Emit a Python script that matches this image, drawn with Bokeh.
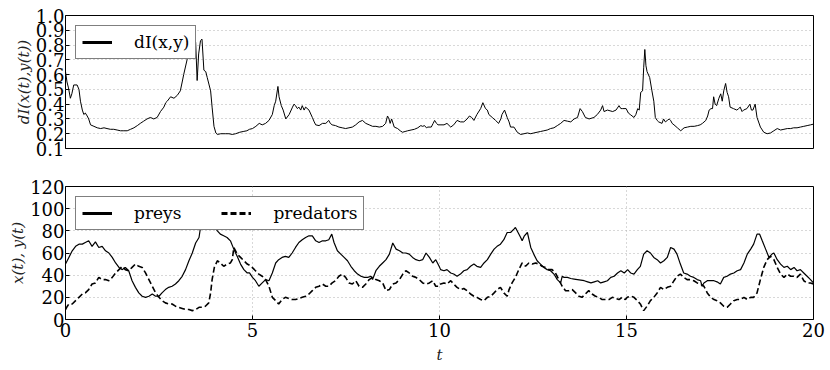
from bokeh.plotting import figure
from bokeh.layouts import column
from bokeh.models import Range1d, FixedTicker, Legend, LegendItem
from bokeh.embed import file_html
from bokeh.resources import INLINE

# ---------------- data ----------------
# dI(x(t), y(t)) : (t, value)
di_points = [
    (0.00, 0.62), (0.04, 0.55), (0.08, 0.51), (0.13, 0.44), (0.17, 0.47), (0.22, 0.53),
    (0.31, 0.53), (0.36, 0.50), (0.40, 0.42), (0.45, 0.36), (0.49, 0.33), (0.53, 0.34),
    (0.58, 0.32), (0.62, 0.30), (0.67, 0.26), (0.76, 0.25), (0.85, 0.24), (0.94, 0.235),
    (1.03, 0.24), (1.11, 0.235), (1.20, 0.23), (1.29, 0.23), (1.38, 0.225), (1.47, 0.22),
    (1.56, 0.22), (1.65, 0.22), (1.74, 0.23), (1.83, 0.24), (1.92, 0.255), (2.00, 0.27),
    (2.09, 0.285), (2.18, 0.30), (2.27, 0.31), (2.36, 0.30), (2.45, 0.31), (2.54, 0.35),
    (2.63, 0.38), (2.68, 0.41), (2.72, 0.42), (2.81, 0.45), (2.90, 0.44), (2.99, 0.46),
    (3.07, 0.49), (3.12, 0.55), (3.16, 0.60), (3.25, 0.70), (3.30, 0.74), (3.34, 0.76),
    (3.40, 0.80), (3.48, 0.82), (3.52, 0.56), (3.56, 0.74), (3.61, 0.83), (3.65, 0.84),
    (3.70, 0.63), (3.75, 0.62), (3.79, 0.58), (3.84, 0.53), (3.88, 0.49), (3.92, 0.38),
    (3.97, 0.25), (4.02, 0.205), (4.06, 0.195), (4.15, 0.20), (4.28, 0.20), (4.37, 0.20),
    (4.46, 0.195), (4.55, 0.20), (4.66, 0.21), (4.75, 0.215), (4.85, 0.22), (4.92, 0.23),
    (5.00, 0.235), (5.09, 0.25), (5.18, 0.27), (5.26, 0.26), (5.35, 0.27), (5.44, 0.29),
    (5.53, 0.33), (5.58, 0.39), (5.62, 0.42), (5.68, 0.52), (5.71, 0.45), (5.77, 0.39),
    (5.82, 0.36), (5.89, 0.30), (5.98, 0.33), (6.07, 0.38), (6.11, 0.40), (6.15, 0.39),
    (6.20, 0.37), (6.24, 0.38), (6.29, 0.36), (6.33, 0.39), (6.38, 0.36), (6.42, 0.38),
    (6.51, 0.36), (6.60, 0.31), (6.65, 0.28), (6.69, 0.26), (6.78, 0.255), (6.87, 0.27),
    (6.96, 0.27), (7.04, 0.29), (7.08, 0.27), (7.13, 0.26), (7.22, 0.255), (7.31, 0.245),
    (7.40, 0.24), (7.49, 0.235), (7.58, 0.24), (7.67, 0.245), (7.76, 0.26), (7.85, 0.28),
    (7.94, 0.29), (8.03, 0.27), (8.12, 0.26), (8.21, 0.25), (8.30, 0.25), (8.39, 0.245),
    (8.48, 0.25), (8.56, 0.27), (8.61, 0.32), (8.65, 0.30), (8.68, 0.27), (8.72, 0.30),
    (8.79, 0.245), (8.88, 0.235), (8.95, 0.22), (9.01, 0.21), (9.08, 0.215), (9.15, 0.22),
    (9.24, 0.225), (9.33, 0.23), (9.42, 0.24), (9.50, 0.255), (9.55, 0.25), (9.60, 0.255),
    (9.65, 0.24), (9.69, 0.245), (9.78, 0.245), (9.83, 0.27), (9.87, 0.29), (9.92, 0.27),
    (9.96, 0.26), (10.04, 0.26), (10.12, 0.26), (10.20, 0.27), (10.30, 0.245), (10.38, 0.26),
    (10.47, 0.29), (10.56, 0.28), (10.65, 0.28), (10.74, 0.30), (10.80, 0.32), (10.86, 0.31),
    (10.92, 0.29), (11.00, 0.33), (11.10, 0.37), (11.16, 0.41), (11.23, 0.37), (11.28, 0.36),
    (11.32, 0.33), (11.41, 0.31), (11.50, 0.29), (11.58, 0.27), (11.64, 0.30), (11.67, 0.33),
    (11.74, 0.36), (11.81, 0.31), (11.86, 0.28), (11.90, 0.245), (11.99, 0.245), (12.08, 0.21),
    (12.17, 0.195), (12.26, 0.20), (12.35, 0.205), (12.44, 0.20), (12.52, 0.205), (12.61, 0.21),
    (12.70, 0.215), (12.79, 0.22), (12.88, 0.225), (12.97, 0.235), (13.06, 0.24), (13.15, 0.255),
    (13.24, 0.27), (13.33, 0.29), (13.42, 0.285), (13.51, 0.28), (13.60, 0.30), (13.69, 0.31),
    (13.76, 0.37), (13.82, 0.35), (13.90, 0.31), (14.00, 0.30), (14.13, 0.31), (14.22, 0.33),
    (14.31, 0.36), (14.36, 0.39), (14.40, 0.35), (14.49, 0.36), (14.56, 0.355), (14.63, 0.35),
    (14.72, 0.36), (14.80, 0.39), (14.85, 0.37), (14.90, 0.37), (14.99, 0.37), (15.05, 0.34),
    (15.10, 0.33), (15.20, 0.31), (15.25, 0.33), (15.30, 0.37), (15.34, 0.36), (15.38, 0.48),
    (15.43, 0.49), (15.46, 0.65), (15.49, 0.77), (15.52, 0.66), (15.55, 0.62), (15.62, 0.58),
    (15.68, 0.49), (15.73, 0.42), (15.77, 0.31), (15.82, 0.29), (15.86, 0.28), (15.95, 0.27),
    (15.99, 0.30), (16.04, 0.28), (16.09, 0.29), (16.14, 0.30), (16.18, 0.29), (16.22, 0.27),
    (16.27, 0.26), (16.36, 0.24), (16.45, 0.22), (16.54, 0.24), (16.63, 0.245), (16.72, 0.25),
    (16.81, 0.25), (16.90, 0.255), (16.97, 0.26), (17.03, 0.27), (17.12, 0.29), (17.17, 0.32),
    (17.21, 0.36), (17.26, 0.37), (17.30, 0.37), (17.33, 0.45), (17.37, 0.40), (17.41, 0.39),
    (17.47, 0.44), (17.52, 0.47), (17.56, 0.42), (17.60, 0.49), (17.65, 0.54), (17.69, 0.48),
    (17.73, 0.45), (17.77, 0.38), (17.86, 0.37), (17.95, 0.36), (18.00, 0.37), (18.04, 0.38),
    (18.09, 0.35), (18.13, 0.36), (18.22, 0.37), (18.30, 0.40), (18.34, 0.36), (18.38, 0.36),
    (18.44, 0.40), (18.49, 0.31), (18.58, 0.245), (18.67, 0.21), (18.76, 0.20), (18.85, 0.205),
    (18.94, 0.22), (19.03, 0.235), (19.12, 0.225), (19.21, 0.23), (19.30, 0.235), (19.39, 0.235),
    (19.47, 0.24), (19.56, 0.24), (19.65, 0.245), (19.74, 0.25), (19.83, 0.255), (19.92, 0.26),
    (20.00, 0.265),
]

# preys x(t) : (t, value)
prey_points = [
    (0.00, 50), (0.09, 56), (0.18, 62), (0.27, 66), (0.36, 68), (0.45, 68), (0.53, 69.5),
    (0.62, 71), (0.71, 66), (0.80, 70), (0.89, 65), (0.98, 66), (1.07, 62), (1.16, 60),
    (1.25, 56), (1.34, 51), (1.43, 47), (1.52, 45), (1.60, 47), (1.69, 44), (1.78, 35),
    (1.87, 29), (1.96, 24), (2.05, 21), (2.14, 20), (2.23, 21), (2.32, 23), (2.41, 21),
    (2.50, 21), (2.58, 24), (2.67, 27), (2.76, 29), (2.85, 30), (2.94, 32), (3.03, 35),
    (3.12, 39), (3.21, 45), (3.30, 53), (3.39, 60), (3.48, 69), (3.57, 74), (3.61, 83),
    (3.70, 88), (3.80, 90), (3.90, 86), (4.00, 83), (4.06, 80), (4.14, 77), (4.23, 75.5),
    (4.32, 74), (4.41, 71), (4.50, 63.5), (4.59, 57), (4.68, 50), (4.77, 45), (4.86, 42),
    (4.92, 42), (5.00, 38), (5.08, 35), (5.17, 30), (5.26, 33), (5.35, 36), (5.44, 35),
    (5.53, 42), (5.62, 51), (5.70, 54), (5.79, 56), (5.88, 57), (5.97, 56), (6.06, 60),
    (6.15, 65), (6.24, 69.5), (6.33, 72), (6.42, 74), (6.51, 75.5), (6.60, 75.5), (6.69, 71),
    (6.78, 69.5), (6.87, 71), (6.96, 71), (7.04, 72), (7.12, 77), (7.18, 69.5), (7.27, 62),
    (7.36, 59), (7.45, 56), (7.54, 53), (7.63, 48), (7.72, 44), (7.81, 41), (7.90, 39),
    (7.99, 38), (8.08, 38), (8.17, 39), (8.21, 36), (8.30, 44), (8.39, 48), (8.48, 51),
    (8.57, 54), (8.66, 59), (8.75, 69), (8.84, 63.5), (8.93, 62), (9.02, 60), (9.10, 60),
    (9.19, 59), (9.28, 56), (9.37, 54), (9.46, 53), (9.55, 54), (9.64, 60), (9.73, 56),
    (9.82, 51), (9.90, 54), (9.99, 48), (10.03, 45), (10.12, 44), (10.20, 45), (10.30, 42),
    (10.38, 41), (10.47, 39), (10.56, 41), (10.65, 44), (10.74, 45), (10.83, 48), (10.92, 50),
    (11.00, 48), (11.10, 47), (11.19, 51), (11.28, 54), (11.37, 59), (11.46, 63.5), (11.54, 66),
    (11.63, 68), (11.72, 72), (11.81, 78.5), (11.90, 78.5), (11.99, 81.5), (12.03, 83),
    (12.10, 78.5), (12.17, 74), (12.21, 71), (12.27, 75.5), (12.35, 78.5), (12.44, 65),
    (12.52, 59), (12.61, 53), (12.70, 50), (12.79, 47), (12.88, 45), (12.97, 44), (13.06, 41),
    (13.15, 36), (13.24, 33), (13.28, 39), (13.33, 38), (13.42, 38), (13.51, 37), (13.60, 36.5),
    (13.69, 36), (13.78, 35.5), (13.87, 35), (13.96, 34), (14.05, 33), (14.14, 34), (14.23, 35),
    (14.31, 33), (14.40, 34), (14.49, 35), (14.58, 38), (14.67, 39), (14.76, 42), (14.85, 44),
    (14.94, 42), (15.03, 45), (15.11, 42), (15.20, 41), (15.29, 45), (15.37, 48), (15.46, 59),
    (15.55, 62), (15.64, 60), (15.73, 56), (15.82, 54), (15.91, 51), (16.00, 53), (16.09, 56),
    (16.18, 65), (16.27, 63.5), (16.35, 59), (16.44, 50), (16.53, 42), (16.62, 41), (16.71, 39),
    (16.80, 38), (16.89, 36), (16.98, 35), (17.02, 30), (17.07, 33), (17.16, 35), (17.25, 35),
    (17.34, 35), (17.42, 34), (17.51, 32), (17.60, 38), (17.69, 39), (17.78, 41), (17.87, 42),
    (17.96, 44), (18.05, 45), (18.14, 51), (18.23, 59), (18.32, 63.5), (18.40, 68), (18.49, 77),
    (18.56, 77), (18.63, 71), (18.72, 63.5), (18.81, 56), (18.89, 59), (18.94, 60), (19.03, 54),
    (19.12, 50), (19.21, 47), (19.30, 48), (19.39, 45), (19.48, 47), (19.56, 44), (19.65, 45),
    (19.74, 42), (19.83, 39), (19.92, 36), (20.00, 33),
]

# predators y(t) : (t, value)
pred_points = [
    (0.00, 9), (0.05, 12), (0.09, 14), (0.18, 14), (0.27, 17), (0.36, 20), (0.45, 23),
    (0.53, 24), (0.62, 27), (0.71, 32), (0.80, 33), (0.89, 38), (0.98, 36), (1.07, 36),
    (1.16, 35), (1.25, 38), (1.34, 42), (1.43, 45), (1.52, 48), (1.60, 45), (1.69, 44),
    (1.78, 47), (1.87, 50), (1.96, 48), (2.05, 47), (2.14, 42), (2.23, 36), (2.32, 30),
    (2.41, 24), (2.50, 20), (2.58, 17), (2.67, 15), (2.76, 14), (2.85, 14), (2.94, 12),
    (3.03, 11), (3.12, 10), (3.21, 9), (3.30, 9), (3.39, 8), (3.48, 9), (3.57, 11),
    (3.65, 11), (3.74, 12), (3.83, 15), (3.88, 24), (3.92, 36), (3.98, 47), (4.06, 53),
    (4.14, 51), (4.23, 48), (4.32, 50), (4.41, 51), (4.46, 54), (4.50, 65), (4.59, 59),
    (4.68, 56), (4.77, 53), (4.86, 50), (4.92, 49), (4.99, 47), (5.08, 44), (5.17, 41),
    (5.26, 39), (5.35, 36), (5.44, 30), (5.53, 20), (5.62, 17), (5.70, 14), (5.79, 18),
    (5.88, 20), (5.97, 19), (6.06, 18), (6.15, 18), (6.24, 19), (6.33, 20), (6.42, 21),
    (6.51, 23), (6.60, 26), (6.69, 29), (6.78, 30), (6.87, 32), (6.96, 30), (7.04, 30),
    (7.13, 33), (7.22, 35), (7.31, 39), (7.40, 41), (7.49, 38), (7.58, 33), (7.67, 32),
    (7.76, 35), (7.85, 30), (7.94, 29), (8.03, 32), (8.12, 36), (8.21, 38), (8.30, 36),
    (8.39, 35), (8.48, 33), (8.57, 26), (8.66, 27), (8.75, 32), (8.84, 33), (8.93, 36),
    (9.02, 41), (9.10, 44), (9.19, 42), (9.28, 39), (9.37, 38), (9.46, 36), (9.55, 33),
    (9.64, 32), (9.73, 33), (9.82, 35), (9.90, 30), (9.99, 30), (10.03, 32), (10.12, 33),
    (10.20, 32), (10.30, 35), (10.38, 32), (10.47, 29), (10.56, 27), (10.65, 28), (10.74, 26),
    (10.83, 23), (10.92, 21), (11.00, 20), (11.10, 18), (11.19, 17), (11.28, 20), (11.37, 21),
    (11.46, 24), (11.54, 27), (11.63, 29), (11.72, 24), (11.81, 21), (11.86, 27), (11.94, 33),
    (12.03, 38), (12.12, 45), (12.21, 51), (12.30, 48), (12.39, 51), (12.48, 50), (12.57, 51),
    (12.66, 50), (12.74, 48), (12.83, 47), (12.92, 45), (13.01, 45), (13.10, 42), (13.19, 36),
    (13.28, 30), (13.37, 26), (13.46, 26), (13.55, 27), (13.64, 24), (13.73, 21), (13.81, 20),
    (13.90, 23), (13.99, 26), (14.08, 23), (14.17, 21), (14.26, 20), (14.35, 18), (14.44, 18),
    (14.53, 18), (14.62, 20), (14.70, 19), (14.80, 18), (14.88, 20), (14.97, 18), (15.02, 20),
    (15.11, 21), (15.20, 20), (15.29, 17), (15.37, 14), (15.46, 8), (15.55, 12), (15.64, 17),
    (15.73, 20), (15.82, 24), (15.91, 29), (16.00, 27), (16.09, 29), (16.18, 30), (16.27, 35),
    (16.35, 39), (16.44, 41), (16.53, 38), (16.62, 36), (16.71, 36), (16.80, 35), (16.89, 33),
    (16.98, 32), (17.07, 30), (17.16, 24), (17.25, 20), (17.34, 18), (17.42, 17), (17.51, 15),
    (17.60, 12), (17.69, 11), (17.78, 14), (17.87, 17), (17.96, 18), (18.05, 18), (18.14, 20),
    (18.23, 18), (18.32, 20), (18.40, 20), (18.49, 24), (18.58, 36), (18.67, 47), (18.76, 54),
    (18.85, 57), (18.94, 54), (19.03, 47), (19.12, 41), (19.21, 38), (19.30, 41), (19.39, 39),
    (19.48, 39), (19.56, 38), (19.65, 41), (19.74, 35), (19.83, 33), (19.92, 33), (20.00, 32),
]

t_di = [p[0] for p in di_points]
di_vals = [p[1] for p in di_points]
t_prey = [p[0] for p in prey_points]
prey_vals = [p[1] for p in prey_points]
t_pred = [p[0] for p in pred_points]
pred_vals = [p[1] for p in pred_points]

x_ticks = [0, 5, 10, 15, 20]
top_y_ticks = [0.1, 0.2, 0.3, 0.4, 0.5, 0.6, 0.7, 0.8, 0.9, 1.0]
top_y_labels = {0.1: "0.1", 0.2: "0.2", 0.3: "0.3", 0.4: "0.4", 0.5: "0.5",
                0.6: "0.6", 0.7: "0.7", 0.8: "0.8", 0.9: "0.9", 1.0: "1.0"}
bot_y_ticks = [0, 20, 40, 60, 80, 100, 120]

NAN = float("nan")
FONT = "DejaVu Serif"
TICK_SIZE = "18px"
W = 830


def style(p):
    p.outline_line_color = "black"
    p.outline_line_width = 1
    p.background_fill_color = "white"
    p.border_fill_color = "white"
    for ax in p.axis:
        ax.axis_line_color = None
        ax.major_tick_in = 4
        ax.major_tick_out = 0
        ax.minor_tick_line_color = None
        ax.major_tick_line_color = "black"
        ax.major_label_text_font = FONT
        ax.major_label_text_font_size = TICK_SIZE
        ax.major_label_text_color = "black"
        ax.axis_label_text_font = FONT
        ax.axis_label_text_font_size = "15px"
        ax.axis_label_text_font_style = "italic"
        ax.axis_label_text_color = "#222222"
    for g in p.grid:
        g.grid_line_color = "#b0b0b0"
        g.grid_line_dash = "1 3"
        g.grid_line_width = 1


# ---------------- top panel ----------------
p1 = figure(width=W, height=166, output_backend="svg", toolbar_location=None,
            x_range=Range1d(0, 20), y_range=Range1d(0.1, 1.0),
            min_border_left=65, min_border_right=17, min_border_top=15, min_border_bottom=18)
p1.line(t_di, di_vals, line_color="black", line_width=1)
leg1 = p1.line([NAN], [NAN], line_color="black", line_width=3)
p1.xaxis.ticker = FixedTicker(ticks=x_ticks)
p1.yaxis.ticker = FixedTicker(ticks=top_y_ticks)
p1.yaxis.major_label_overrides = top_y_labels
p1.yaxis.axis_label = "dI(x(t),y(t))"
p1.xaxis.visible = False
p1.xgrid.visible = False
style(p1)
p1.yaxis.major_label_standoff = 1
p1.yaxis.axis_label_standoff = 0

legend1 = Legend(items=[LegendItem(label="dI(x,y)", renderers=[leg1])],
                 location="top_left")
p1.add_layout(legend1)

# ---------------- bottom panel ----------------
p2 = figure(width=W, height=204, output_backend="svg", toolbar_location=None,
            x_range=Range1d(0, 20), y_range=Range1d(0, 120),
            min_border_left=65, min_border_right=17, min_border_top=20, min_border_bottom=51)
p2.line(t_prey, prey_vals, line_color="black", line_width=1.2)
p2.line(t_pred, pred_vals, line_color="black", line_width=1.6, line_dash="6 3")
leg_prey = p2.line([NAN], [NAN], line_color="black", line_width=3)
leg_pred = p2.line([NAN], [NAN], line_color="black", line_width=3, line_dash="6 3")
p2.xaxis.ticker = FixedTicker(ticks=x_ticks)
p2.yaxis.ticker = FixedTicker(ticks=bot_y_ticks)
p2.yaxis.axis_label = "x(t), y(t)"
p2.xaxis.axis_label = "t"
style(p2)
p2.yaxis.major_label_standoff = 1
p2.yaxis.axis_label_standoff = 0
p2.xaxis.major_label_standoff = 3
p2.xaxis.axis_label_standoff = 6

legend2 = Legend(items=[LegendItem(label="preys", renderers=[leg_prey]),
                        LegendItem(label="predators", renderers=[leg_pred])],
                 location="top_left", orientation="horizontal")
p2.add_layout(legend2)

for lg in (legend1, legend2):
    lg.border_line_color = "black"
    lg.border_line_width = 1
    lg.background_fill_color = "white"
    lg.background_fill_alpha = 1
    lg.label_text_font = FONT
    lg.label_text_font_size = "17px"
    lg.label_text_color = "black"
    lg.glyph_width = 30
    lg.glyph_height = 20
    lg.label_height = 20
    lg.label_standoff = 22
    lg.padding = 6
    lg.spacing = 40
    lg.margin = 10

layout = column(p1, p2, spacing=0)

with open("out.html", "w") as f:
    f.write(file_html(layout, INLINE))
